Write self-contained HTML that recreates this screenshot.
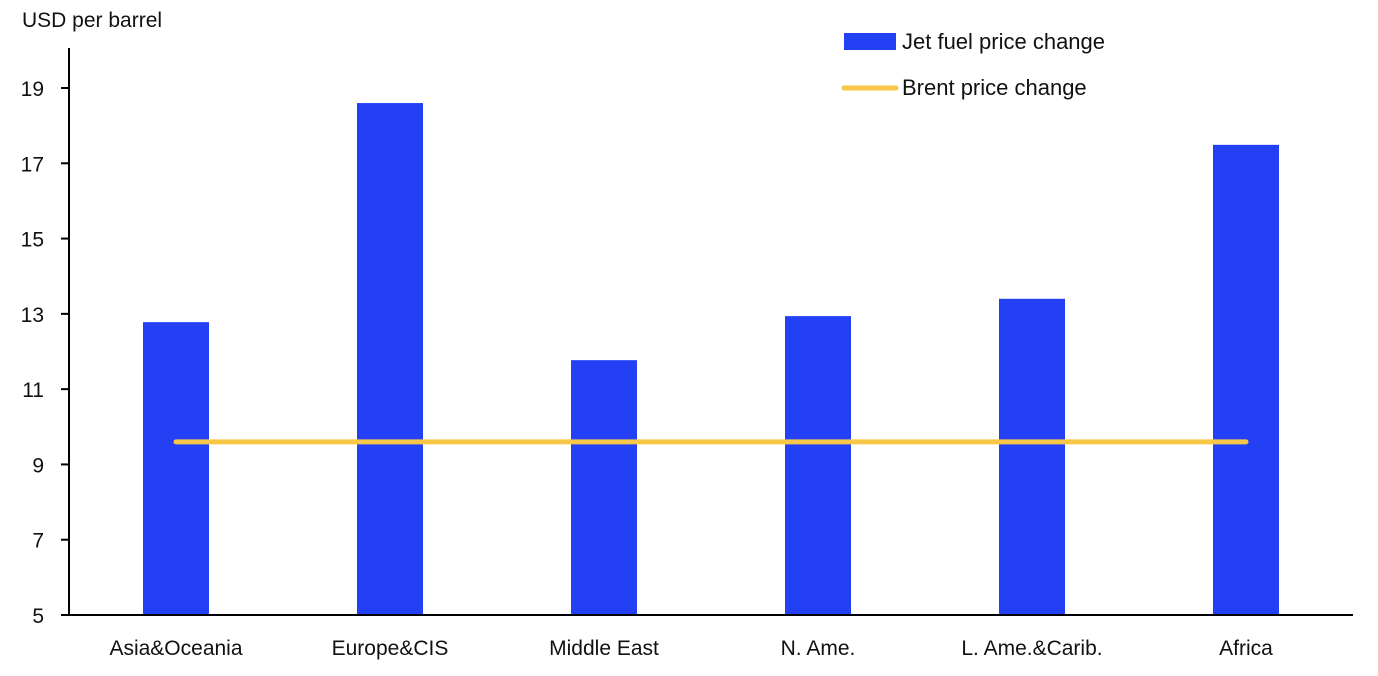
<!DOCTYPE html>
<html><head><meta charset="utf-8"><style>
body{margin:0;background:#fff;}
svg{display:block;font-family:"Liberation Sans",sans-serif;}
</style></head><body>
<svg id="chart" width="1378" height="676" viewBox="0 0 1378 676">
<text x="22" y="27" font-size="21" fill="#111">USD per barrel</text>
<g>
<rect x="844" y="33" width="52" height="17" fill="#2440f5"/>
<text x="902" y="49" font-size="22" fill="#111">Jet fuel price change</text>
<line x1="844" y1="88" x2="896" y2="88" stroke="#f8c747" stroke-width="5" stroke-linecap="round"/>
<text x="902" y="95" font-size="22" fill="#111">Brent price change</text>
</g>
<g id="plot"></g>
</svg>
<script>
const categories=["Asia&Oceania","Europe&CIS","Middle East","N. Ame.","L. Ame.&Carib.","Africa"];
const jetValues=[12.78,18.6,11.77,12.94,13.4,17.49];
const brentValues=[9.6,9.6,9.6,9.6,9.6,9.6];
const yTicks=[5,7,9,11,13,15,17,19];
const NS="http://www.w3.org/2000/svg";
const g=document.getElementById('plot');
const x0=69,x1=1353,yMin=5,yMax=19,py0=615,py1=88;
const band=(x1-x0)/categories.length;
const xc=i=>x0+band*(i+0.5);
const y=v=>py0-(v-yMin)/(yMax-yMin)*(py0-py1);
function mk(t,a){const e=document.createElementNS(NS,t);for(const k in a)e.setAttribute(k,a[k]);g.appendChild(e);return e;}
jetValues.forEach((v,i)=>{
 const r=mk('rect',{x:xc(i)-33,y:y(v),width:66,height:y(yMin)-y(v),fill:'#2440f5'});
 
 
});
const pts=brentValues.map((v,i)=>xc(i)+','+y(v)).join(' ');
const pl=mk('polyline',{points:pts,fill:'none',stroke:'#f8c747','stroke-width':5,'stroke-linecap':'round'});


const ax=mk('line',{x1:x0,y1:py1-40,x2:x0,y2:py0,stroke:'#000','stroke-width':2});


const bx=mk('line',{x1:61,y1:py0,x2:x1,y2:py0,stroke:'#000','stroke-width':2});


yTicks.forEach(t=>{
 const l=mk('line',{x1:61,y1:y(t),x2:x0,y2:y(t),stroke:'#000','stroke-width':2});
 
 
 const tx=mk('text',{x:44,y:y(t)+8,'font-size':21,'text-anchor':'end',fill:'#111'});
 tx.textContent=t;
 
 
});
categories.forEach((c,i)=>{
 const tx=mk('text',{x:xc(i),y:655,'font-size':21,'text-anchor':'middle',fill:'#111'});
 tx.textContent=c;
 
 
});
</script>
</body></html>
